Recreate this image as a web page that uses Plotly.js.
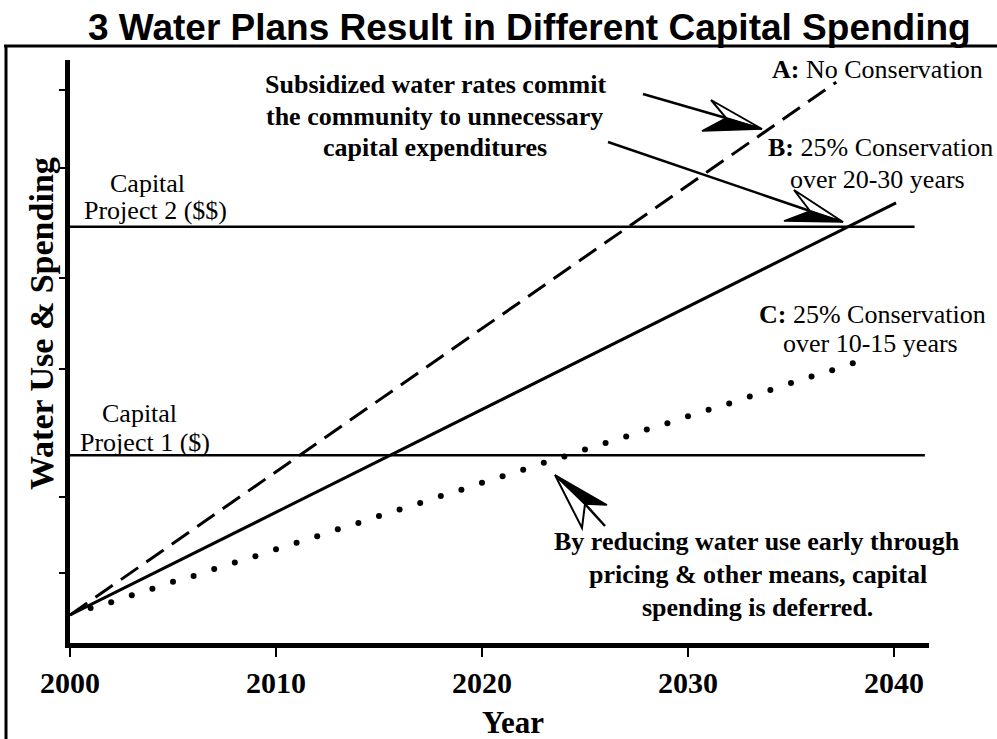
<!DOCTYPE html>
<html><head><meta charset="utf-8">
<script src="https://cdn.plot.ly/plotly-3.0.1.min.js"></script>
<style>html,body{margin:0;padding:0;background:#fff}#chart{width:997px;height:739px}</style>
</head><body><div id="chart"></div>
<script>
// ---- data (arbitrary "water use & spending" units, 0..100) ----
const yearsA = [2000, 2037.2];
const valuesA = [4.8, 96.2];
const yearsB = [2000, 2040.1];
const valuesB = [4.8, 75.5];
const yearsC = [2001, 2002, 2003, 2004, 2005, 2006, 2007, 2008, 2009, 2010,
                2011, 2012, 2013, 2014, 2015, 2016, 2017, 2018, 2019, 2020,
                2021, 2022, 2023, 2024, 2025, 2026, 2027, 2028, 2029, 2030,
                2031, 2032, 2033, 2034, 2035, 2036, 2037, 2038];
const valuesC = [6.0, 7.0, 8.2, 9.3, 10.5, 11.5, 12.7, 13.8, 14.9, 16.1,
                 17.2, 18.3, 19.5, 20.6, 21.8, 22.9, 24.0, 25.2, 26.3, 27.5,
                 28.6, 29.7, 30.9, 32.0, 33.2, 34.3, 35.4, 36.6, 37.7, 38.9,
                 40.0, 41.1, 42.3, 43.4, 44.6, 45.7, 46.8, 48.0];
const project1Years = [2000, 2041.5];
const project1Level = [32.2, 32.2];
const project2Years = [2000, 2041.0];
const project2Level = [71.4, 71.4];
const xTickYears = [2000, 2010, 2020, 2030, 2040];
const xTickLabels = ['2000', '2010', '2020', '2030', '2040'];
const yTickValues = [12.0, 25.0, 47.0, 62.6, 81.5, 94.9];

// ---- layout helpers (pixel -> paper) ----
const PL = 70, PT = 60, PW = 859, PH = 583;
const px = x => (x - PL) / PW;
const py = y => (PT + PH - y) / PH;
const pth = (pts, close) => pts.map((p, i) => (i ? 'L' : 'M') + px(p[0]).toFixed(5) + ',' + py(p[1]).toFixed(5)).join(' ') + (close ? ' Z' : '');

const serif = 'Liberation Serif, Times New Roman, serif';
const sans = 'Liberation Sans, Arial, sans-serif';

const traces = [
  {x: project2Years, y: project2Level, mode: 'lines', line: {color: '#000', width: 2.5}},
  {x: project1Years, y: project1Level, mode: 'lines', line: {color: '#000', width: 2.5}},
  {x: yearsA, y: valuesA, mode: 'lines', line: {color: '#000', width: 3, dash: '21px,10px'}},
  {x: yearsB, y: valuesB, mode: 'lines', line: {color: '#000', width: 3}},
  {x: yearsC, y: valuesC, mode: 'markers', marker: {color: '#000', size: 6}}
];

function txt(text, x, y, size, bold, opts) {
  return Object.assign({
    text: text, xref: 'paper', yref: 'paper', x: px(x), y: py(y),
    xanchor: 'center', yanchor: 'middle', showarrow: false,
    font: {family: serif, size: size, color: '#000', weight: bold ? 'bold' : 'normal'}
  }, opts || {});
}

const annotations = [
  txt('3 Water Plans Result in Different Capital Spending', 529, 27, 37, true, {font: {family: sans, size: 37, color: '#000', weight: 'bold'}}),
  txt('Water Use & Spending', 41, 324, 34, true, {textangle: -90}),
  txt('Year', 513, 722, 31, true),
  txt('Subsidized water rates commit', 435, 84, 26, true),
  txt('the community to unnecessary', 434, 116, 26, true),
  txt('capital expenditures', 435, 147, 26, true),
  txt('<b>A:</b> No Conservation', 985, 70, 26, false, {xanchor: 'right'}),
  txt('<b>B:</b> 25% Conservation', 766, 147, 26, false, {xanchor: 'left'}),
  txt('over 20-30 years', 877, 179, 26, false),
  txt('<b>C:</b> 25% Conservation', 757, 314, 26, false, {xanchor: 'left'}),
  txt('over 10-15 years', 870, 343, 26, false),
  txt('Capital', 147, 183, 26, false),
  txt('Project 2 ($$)', 155, 210, 26, false),
  txt('Capital', 139, 413, 26, false),
  txt('Project 1 ($)', 145, 442, 26, false),
  txt('By reducing water use early through', 757, 541, 26, true),
  txt('pricing & other means, capital', 758, 574, 26, true),
  txt('spending is deferred.', 757, 607, 26, true)
];

const blk = {color: '#000', width: 2.5};
const shapes = [
  // page frame
  {type: 'line', xref: 'paper', yref: 'paper', x0: px(6), y0: py(46), x1: px(6), y1: py(760), line: {color: '#000', width: 3}},
  {type: 'line', xref: 'paper', yref: 'paper', x0: px(4), y0: py(46), x1: px(1010), y1: py(46), line: {color: '#000', width: 3}},
  // arrow 1 -> dashed line A
  {type: 'path', xref: 'paper', yref: 'paper', path: pth([[643, 94], [726, 118]]), line: blk},
  {type: 'path', xref: 'paper', yref: 'paper', path: pth([[762, 129], [711, 100], [726, 118]], true), fillcolor: '#fff', line: {color: '#000', width: 2}},
  {type: 'path', xref: 'paper', yref: 'paper', path: pth([[762, 129], [726, 118], [702, 131]], true), fillcolor: '#000', line: {color: '#000', width: 1.5}},
  // arrow 2 -> line B crossing project 2
  {type: 'path', xref: 'paper', yref: 'paper', path: pth([[608, 142], [810, 211]]), line: blk},
  {type: 'path', xref: 'paper', yref: 'paper', path: pth([[843, 222], [794, 190], [810, 211]], true), fillcolor: '#fff', line: {color: '#000', width: 2}},
  {type: 'path', xref: 'paper', yref: 'paper', path: pth([[843, 222], [810, 211], [784, 221]], true), fillcolor: '#000', line: {color: '#000', width: 1.5}},
  // arrow 3 -> dotted line C
  {type: 'path', xref: 'paper', yref: 'paper', path: pth([[605, 526], [585, 504]]), line: blk},
  {type: 'path', xref: 'paper', yref: 'paper', path: pth([[555, 475], [582, 528], [585, 504]], true), fillcolor: '#fff', line: {color: '#000', width: 2}},
  {type: 'path', xref: 'paper', yref: 'paper', path: pth([[555, 475], [585, 504], [607, 505]], true), fillcolor: '#000', line: {color: '#000', width: 1.5}}
];

const layout = {
  width: 997, height: 739,
  margin: {l: PL, r: 997 - PL - PW, t: PT, b: 739 - PT - PH, pad: 0},
  paper_bgcolor: '#fff', plot_bgcolor: '#fff',
  showlegend: false,
  xaxis: {
    range: [2000, 2041.7], showgrid: false, zeroline: false,
    showline: true, linecolor: '#000', linewidth: 5,
    ticks: 'outside', ticklen: 9, tickwidth: 2, tickcolor: '#000',
    tickvals: xTickYears, ticktext: xTickLabels,
    tickfont: {family: serif, size: 30, color: '#000', weight: 'bold'}
  },
  yaxis: {
    range: [0, 100], showgrid: false, zeroline: false,
    showline: true, linecolor: '#000', linewidth: 5,
    ticks: 'outside', ticklen: 6, tickwidth: 2, tickcolor: '#000',
    tickvals: yTickValues, showticklabels: false
  },
  annotations: annotations,
  shapes: shapes
};

Plotly.newPlot('chart', traces, layout, {displayModeBar: false, staticPlot: true});
</script>
</body></html>
